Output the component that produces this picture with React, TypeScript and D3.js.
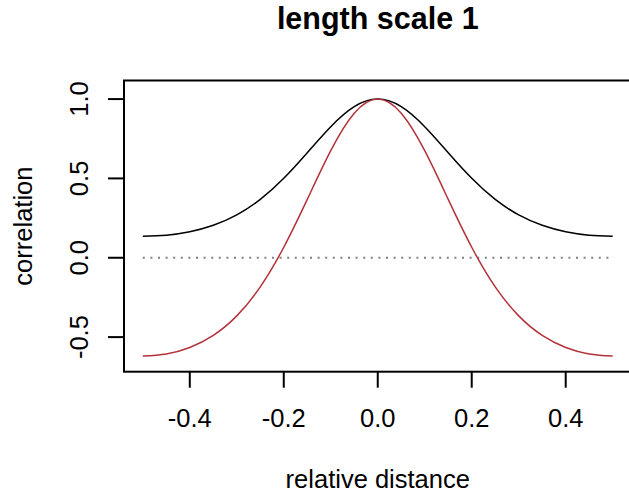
import React from "react";
import * as d3 from "d3";

const distances = [-0.5, -0.45, -0.4, -0.35, -0.3, -0.25, -0.2, -0.15, -0.1, -0.05, 0, 0.05, 0.1, 0.15, 0.2, 0.25, 0.3, 0.35, 0.4, 0.45, 0.5];
const blackSeries = [0.1353, 0.1421, 0.1638, 0.2044, 0.2701, 0.3679, 0.5011, 0.6622, 0.8262, 0.9522, 1, 0.9522, 0.8262, 0.6622, 0.5011, 0.3679, 0.2701, 0.2044, 0.1638, 0.1421, 0.1353];
const redSeries = [-0.619, -0.606, -0.5653, -0.4893, -0.3663, -0.1833, 0.0661, 0.3677, 0.6747, 0.9105, 1, 0.9105, 0.6747, 0.3677, 0.0661, -0.1833, -0.3663, -0.4893, -0.5653, -0.606, -0.619];
const xTicks = [-0.4, -0.2, 0, 0.2, 0.4];
const yTicks = [-0.5, 0, 0.5, 1];
const title = "length scale 1";
const xLabel = "relative distance";
const yLabel = "correlation";

const W = 629;
const H = 493;
const left = 124;
const right = 631.5;
const top = 80.5;
const bottom = 371.7;
const font = "'Liberation Sans', Arial, Helvetica, sans-serif";

const fmt = (v: number) => (Math.abs(v) < 1e-9 ? 0 : v).toFixed(1);

export default function App() {
  const x = d3.scaleLinear().domain([-0.54, 0.54]).range([left, right]);
  const y = d3.scaleLinear().domain([-0.718, 1.117]).range([bottom, top]);
  const line = d3
    .line<[number, number]>()
    .x((d) => x(d[0]))
    .y((d) => y(d[1]))
    .curve(d3.curveNatural);
  const blackPath = line(distances.map((d, i) => [d, blackSeries[i]]) as [number, number][]) || "";
  const redPath = line(distances.map((d, i) => [d, redSeries[i]]) as [number, number][]) || "";

  return (
    <svg width={W} height={H} style={{ position: "absolute", left: 0, top: 0, background: "#fff" }}>
      <rect x={0} y={0} width={W} height={H} fill="#fff" />
      <text x={x(0)} y={29} textAnchor="middle" fontFamily={font} fontWeight="bold" fontSize={30.5} fill="#000">
        {title}
      </text>
      <line
        x1={x(-0.5)}
        x2={x(0.5)}
        y1={y(0)}
        y2={y(0)}
        stroke="#808080"
        strokeWidth={2}
        strokeDasharray="2 5.6"
      />
      <path d={blackPath} fill="none" stroke="#000" strokeWidth={1.5} />
      <path d={redPath} fill="none" stroke="#b3323a" strokeWidth={1.5} />
      <rect x={left} y={top} width={right - left} height={bottom - top} fill="none" stroke="#000" strokeWidth={2} />
      {xTicks.map((t) => (
        <g key={"x" + t}>
          <line x1={x(t)} x2={x(t)} y1={bottom} y2={bottom + 16} stroke="#000" strokeWidth={2} />
          <text x={x(t)} y={427} textAnchor="middle" fontFamily={font} fontSize={25.5} fill="#000">
            {fmt(t)}
          </text>
        </g>
      ))}
      {yTicks.map((t) => (
        <g key={"y" + t}>
          <line x1={left - 16} x2={left} y1={y(t)} y2={y(t)} stroke="#000" strokeWidth={2} />
          <text
            transform={`translate(88,${y(t)}) rotate(-90)`}
            textAnchor="middle"
            fontFamily={font}
            fontSize={25.5}
            fill="#000"
          >
            {fmt(t)}
          </text>
        </g>
      ))}
      <text x={x(0)} y={488} textAnchor="middle" fontFamily={font} fontSize={25.5} fill="#000">
        {xLabel}
      </text>
      <text
        transform={`translate(32,${(top + bottom) / 2}) rotate(-90)`}
        textAnchor="middle"
        fontFamily={font}
        fontSize={25.5}
        fill="#000"
      >
        {yLabel}
      </text>
    </svg>
  );
}
